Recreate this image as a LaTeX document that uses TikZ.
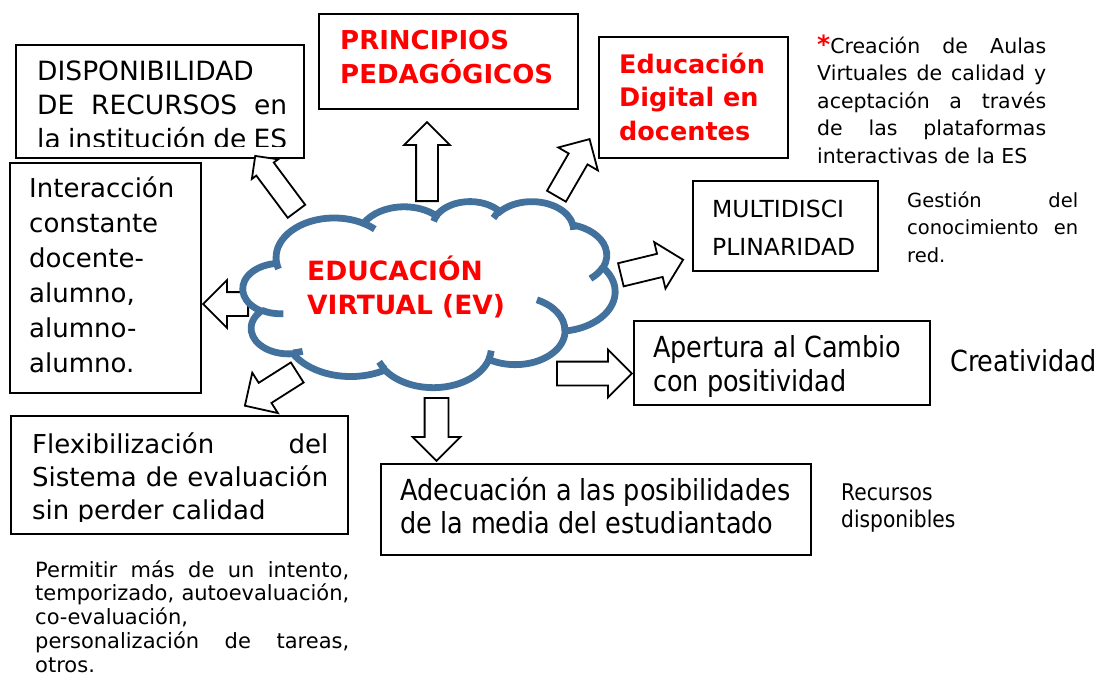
\documentclass[tikz,border=0pt]{standalone}
\usepackage{fontspec}
\setmainfont{DejaVu Sans}
\newfontfamily\tahoma[FakeStretch=0.88]{DejaVu Sans}
\usetikzlibrary{shapes.arrows,positioning}
\definecolor{nubeazul}{RGB}{65,113,156}
\setlength{\parindent}{0pt}
\setlength{\lineskiplimit}{-100pt}
\newcommand\tope{\rule{0pt}{28pt}}
% arco de la nube: radios, angulo inicial y barrido (en grados)
\newcommand\nubarc[4]{%
  \pgfextra{%
    \pgfmathparse{atan2((#1)*sin(#3),(#2)*cos(#3))}\xdef\nta{\pgfmathresult}%
    \pgfmathparse{atan2((#1)*sin(#3+#4),(#2)*cos(#3+#4))}\xdef\ntb{\pgfmathresult}%
    \pgfmathparse{\ntb<\nta ? \ntb+360 : \ntb}\xdef\ntb{\pgfmathresult}}%
  arc[x radius=#1, y radius=#2, start angle=\nta, end angle=\ntb]}
\tikzset{
  caja/.style={draw=black, line width=1.8pt, anchor=north west, inner sep=0pt},
  texto/.style={anchor=north west, inner sep=0pt, align=justify},
  flecha/.style={single arrow, draw=black, fill=white, line width=1.8pt, anchor=tail,
    inner xsep=0pt, inner ysep=11pt, text height=0pt, text depth=0pt,
    single arrow head extend=12pt, single arrow tip angle=90},
  nube/.style={draw=nubeazul, line width=6.8pt},
  verd/.style={font={\fontsize{26}{34}\selectfont}},
  rojo/.style={text=red, font={\bfseries\fontsize{26}{34}\selectfont}},
  chico/.style={font={\fontsize{20.5}{27.5}\selectfont}},
}
\begin{document}
\begin{tikzpicture}[x=1pt,y=-1pt]
\useasboundingbox (0,0) rectangle (1102,682);

% cajas
\node[caja, minimum width=288pt, minimum height=113pt] (disp) at (15,44) {};
\node[caja, minimum width=191pt, minimum height=230pt] (inter) at (9,162) {};
\node[caja, minimum width=259pt, minimum height=95pt] (princ) at (318,13) {};
\node[caja, minimum width=189pt, minimum height=121pt] (digital) at (598,36) {};
\node[caja, minimum width=185pt, minimum height=90pt] (multi) at (692,180) {};
\node[caja, minimum width=296pt, minimum height=84pt] (apert) at (633,320) {};
\node[caja, minimum width=430pt, minimum height=91pt] (adec) at (380,463) {};
\node[caja, minimum width=337pt, minimum height=118pt] (flex) at (10,415) {};

% textos
\begin{scope}
\clip (15,44) rectangle (303,146);
\node[texto, font={\fontsize{26.5}{34}\selectfont}, text width=250pt] (dispT) at (37,52)
  {\tope DISPONIBILIDAD\linebreak DE RECURSOS en\linebreak la institución de ES\linebreak\mbox{}};
\end{scope}
\node[texto, align=left, font={\fontsize{26}{35}\selectfont}] (interT) at (29,169)
  {\tope Interacción\\constante\\docente-\\alumno,\\alumno-\\alumno.};
\node[texto, rojo, align=left] (princT) at (340,21) {\tope PRINCIPIOS\\PEDAGÓGICOS};
\node[texto, rojo, align=left, font={\bfseries\fontsize{25.5}{33.5}\selectfont}] (digitalT) at (619,45)
  {\tope Educación\\Digital en\\docentes};
\node[texto, chico, text width=229pt] (aulas) at (817,25)
  {\tope{\color{red}\bfseries\fontsize{25}{27.5}\selectfont*}Creación de Aulas\linebreak
   Virtuales de calidad y\linebreak aceptación a través\linebreak de las plataformas\linebreak
   interactivas de la ES};
\node[texto, align=left, font={\fontsize{23.5}{38}\selectfont}] (multiT) at (712,189)
  {\tope MULTIDISCI\\PLINARIDAD};
\node[texto, text width=171pt, font={\fontsize{19.5}{27.5}\selectfont}] (gestion) at (907,179)
  {\tope Gestión del\linebreak conocimiento en\linebreak red.};
\node[texto, align=left, font={\tahoma\fontsize{29}{34}\selectfont}] (apertT) at (653,329)
  {\tope Apertura al Cambio\\con positividad};
\node[texto, align=left, font={\tahoma\fontsize{29}{34}\selectfont}] (creat) at (950,343)
  {\tope Creatividad};
\node[texto, align=left, font={\tahoma\fontsize{29}{33}\selectfont}] (adecT) at (400,472)
  {\tope Adecuación a las posibilidades\\de la media del estudiantado};
\node[texto, align=left, font={\tahoma\fontsize{23}{27}\selectfont}] (recursos) at (841,472)
  {\tope Recursos\\disponibles};
\begin{scope}
\clip (10,415) rectangle (347,521);
\node[texto, verd, font={\fontsize{26}{33}\selectfont}, text width=296pt] (flexT) at (32,425)
  {\tope Flexibilización del\linebreak Sistema de evaluación\linebreak sin perder calidad};
\end{scope}
\node[texto, text width=314pt, font={\fontsize{21}{23.7}\selectfont}] (permitir) at (35,549)
  {\tope Permitir más de un intento,\linebreak temporizado, autoevaluación,\linebreak
   co-evaluación,\newline personalización de tareas,\linebreak otros.};

% flechas
\node[flecha, minimum height=69pt, inner ysep=10pt, single arrow head extend=5.5pt, rotate=126.7] (fdisp) at (297,212) {};
\node[flecha, minimum height=79pt, inner ysep=10pt, rotate=90] (fprinc) at (427,202) {};
\node[flecha, minimum height=66pt, inner ysep=10pt, rotate=59.9] (fdigital) at (556,197) {};
\node[flecha, minimum height=64pt, rotate=13.6] (fmulti) at (620,275) {};
\node[flecha, minimum height=45pt, rotate=180] (finter) at (249,304) {};
\node[flecha, minimum height=62pt, rotate=212.4] (fflex) at (298,372) {};
\node[flecha, minimum height=63pt, rotate=-90] (fadec) at (436.5,397) {};
\node[flecha, minimum height=75pt, rotate=0] (fapert) at (556,373.5) {};

% nube
\begin{scope}[shift={(243,201)}, x=0.86111pt, y=-0.43056pt]
\draw[nube, fill=white] (39.00,143.70) \nubarc{67.53}{91.90}{-190.4875}{123.7805}
  \nubarc{53.33}{72.67}{-144.1024}{89.9452} \nubarc{43.65}{59.45}{-145.8079}{99.7230}
  \nubarc{48.57}{65.95}{-130.9861}{117.2417} \nubarc{53.33}{72.73}{-78.7089}{109.0269}
  \nubarc{67.75}{92.20}{-46.2673}{130.2690} \nubarc{57.85}{78.67}{0.6250}{114.0333}
  \nubarc{67.52}{92.15}{22.4516}{115.1726} \nubarc{77.20}{105.43}{66.2426}{75.7110}
  \nubarc{43.60}{59.18}{-274.9421}{146.7356} \nubarc{43.45}{59.45}{-246.8285}{152.5189} -- cycle;
\draw[nube] (46.93,261.77) \nubarc{43.45}{59.45}{86.7420}{26.4295}
  (69.28,348.99) \nubarc{43.60}{59.18}{73.6105}{11.4475}
  (164.78,390.90) \nubarc{67.52}{92.15}{137.6242}{14.0811}
  (288.27,347.51) \nubarc{67.52}{92.15}{6.4533}{15.9984}
  (341.29,229.54) \nubarc{57.85}{78.67}{-70.2924}{70.9174}
  (417.98,153.54) \nubarc{53.33}{72.73}{30.3180}{27.7515}
  (383.24,54.26) \nubarc{48.57}{65.95}{-13.7443}{14.8589}
  (290.78,39.52) \nubarc{48.57}{65.95}{-149.1815}{18.1954}
  (221.41,47.20) \nubarc{43.65}{59.45}{-163.4943}{17.6864}
  (140.00,51.92) \nubarc{67.53}{91.90}{-66.7070}{12.3194}
  (41.27,157.89) \nubarc{67.53}{91.90}{157.6544}{11.8582};
\end{scope}
\node[texto, rojo, font={\bfseries\fontsize{26.5}{34}\selectfont}] (ev) at (307,252) {\tope EDUCACIÓN\\VIRTUAL (EV)};
\end{tikzpicture}
\end{document}
